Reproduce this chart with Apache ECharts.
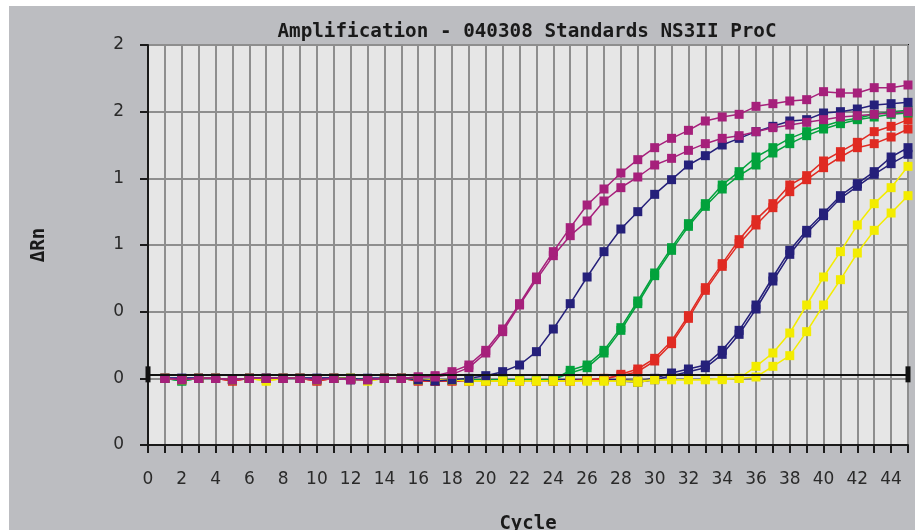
<!DOCTYPE html>
<html>
<head>
<meta charset="utf-8">
<script src="https://cdn.jsdelivr.net/npm/echarts@6/dist/echarts.min.js"></script>
<style>
  html, body { margin: 0; padding: 0; background: #ffffff; }
  #chart { position: absolute; left: 9px; top: 6px; width: 906px; height: 524px; }
</style>
</head>
<body>
<div id="chart"></div>
<script>
// cycles 1..45
const cycles = Array.from({ length: 45 }, (_, i) => i + 1)
const xTicks = [0, 2, 4, 6, 8, 10, 12, 14, 16, 18, 20, 22, 24, 26, 28, 30, 32, 34, 36, 38, 40, 42, 44]
const yTicks = [-0.5, 0, 0.5, 1, 1.5, 2, 2.5]
const threshold = 0.03

// ΔRn per cycle
const magentaA = [0.00, -0.01, 0.00, 0.00, -0.01, 0.00, 0.00, 0.00, 0.00, -0.01, 0.00, -0.01, -0.01, 0.00, 0.00,
  0.01, 0.02, 0.05, 0.10, 0.21, 0.37, 0.56, 0.76, 0.95, 1.13, 1.30, 1.42, 1.54, 1.64, 1.73,
  1.80, 1.86, 1.93, 1.96, 1.98, 2.04, 2.06, 2.08, 2.09, 2.15, 2.14, 2.14, 2.18, 2.18, 2.20]
const magentaB = [0.00, -0.01, 0.00, 0.00, -0.01, 0.00, 0.00, 0.00, 0.00, -0.01, 0.00, -0.01, -0.01, 0.00, 0.00,
  0.01, 0.01, 0.03, 0.08, 0.19, 0.35, 0.55, 0.74, 0.92, 1.07, 1.18, 1.33, 1.43, 1.51, 1.60,
  1.65, 1.71, 1.76, 1.80, 1.82, 1.85, 1.88, 1.90, 1.92, 1.94, 1.96, 1.97, 1.98, 1.99, 2.00]
const navyEarly = [0.00, 0.00, 0.00, 0.00, -0.01, 0.00, 0.00, 0.00, 0.00, 0.00, 0.00, 0.00, -0.01, 0.00, 0.00,
  -0.01, -0.02, -0.01, 0.00, 0.02, 0.05, 0.10, 0.20, 0.37, 0.56, 0.76, 0.95, 1.12, 1.25, 1.38,
  1.49, 1.60, 1.67, 1.75, 1.80, 1.85, 1.89, 1.93, 1.94, 1.99, 2.00, 2.02, 2.05, 2.06, 2.07]
const greenA = [0.00, -0.02, 0.00, 0.00, -0.01, 0.00, 0.00, 0.00, 0.00, -0.01, 0.00, 0.00, -0.01, 0.00, 0.00,
  -0.01, -0.01, -0.01, -0.01, -0.01, -0.01, -0.01, -0.01, -0.01, 0.06, 0.10, 0.21, 0.38, 0.58, 0.79,
  0.98, 1.16, 1.31, 1.45, 1.55, 1.66, 1.73, 1.80, 1.85, 1.89, 1.93, 1.95, 1.98, 2.00, 2.01]
const greenB = [0.00, -0.02, 0.00, 0.00, -0.01, 0.00, 0.00, 0.00, 0.00, -0.01, 0.00, 0.00, -0.01, 0.00, 0.00,
  -0.01, -0.01, -0.01, -0.01, -0.01, -0.01, -0.01, -0.01, -0.01, 0.04, 0.08, 0.19, 0.36, 0.56, 0.77,
  0.96, 1.14, 1.29, 1.42, 1.52, 1.60, 1.69, 1.76, 1.82, 1.87, 1.91, 1.94, 1.96, 1.98, 1.99]
const redA = [0.00, -0.01, 0.00, 0.00, -0.02, 0.00, 0.00, 0.00, 0.00, -0.02, 0.00, 0.00, -0.01, 0.00, 0.00,
  -0.02, -0.02, -0.02, -0.02, -0.02, -0.02, -0.02, -0.02, -0.02, -0.02, -0.01, -0.01, 0.03, 0.07, 0.15,
  0.28, 0.47, 0.68, 0.86, 1.04, 1.19, 1.31, 1.45, 1.52, 1.63, 1.70, 1.77, 1.85, 1.89, 1.94]
const redB = [0.00, -0.01, 0.00, 0.00, -0.02, 0.00, 0.00, 0.00, 0.00, -0.02, 0.00, 0.00, -0.01, 0.00, 0.00,
  -0.02, -0.02, -0.02, -0.02, -0.02, -0.02, -0.02, -0.02, -0.02, -0.02, -0.01, 0.00, 0.02, 0.05, 0.13,
  0.26, 0.45, 0.66, 0.84, 1.01, 1.15, 1.28, 1.40, 1.49, 1.58, 1.66, 1.73, 1.76, 1.81, 1.87]
const navyLateA = [0.00, 0.00, 0.00, 0.00, -0.01, 0.00, 0.00, 0.00, 0.00, 0.00, 0.00, -0.01, 0.00, 0.00, 0.00,
  -0.01, -0.02, -0.01, -0.01, -0.01, -0.01, -0.01, -0.01, -0.01, -0.01, -0.01, -0.01, -0.01, -0.02, 0.00,
  0.04, 0.07, 0.10, 0.21, 0.36, 0.55, 0.76, 0.96, 1.11, 1.24, 1.37, 1.46, 1.55, 1.66, 1.73]
const navyLateB = [0.00, 0.00, 0.00, 0.00, -0.01, 0.00, 0.00, 0.00, 0.00, 0.00, 0.00, -0.01, 0.00, 0.00, 0.00,
  -0.01, -0.02, -0.01, -0.01, -0.01, -0.01, -0.01, -0.01, -0.01, -0.01, -0.01, -0.01, -0.02, -0.03, -0.01,
  0.02, 0.05, 0.08, 0.18, 0.33, 0.52, 0.73, 0.93, 1.09, 1.22, 1.35, 1.44, 1.53, 1.61, 1.68]
const yellowA = [0.00, -0.01, 0.00, 0.00, -0.01, 0.00, -0.02, 0.00, 0.00, -0.01, 0.00, 0.00, -0.02, 0.00, 0.00,
  -0.01, -0.01, -0.01, -0.02, -0.02, -0.02, -0.02, -0.02, -0.02, -0.02, -0.02, -0.02, -0.02, -0.02, -0.01,
  -0.01, -0.01, -0.01, 0.00, 0.00, 0.09, 0.19, 0.34, 0.55, 0.76, 0.95, 1.15, 1.31, 1.43, 1.59]
const yellowB = [0.00, -0.01, 0.00, 0.00, -0.01, 0.00, -0.02, 0.00, 0.00, -0.01, 0.00, 0.00, -0.02, 0.00, 0.00,
  -0.01, -0.01, -0.01, -0.02, -0.02, -0.02, -0.02, -0.02, -0.02, -0.02, -0.02, -0.02, -0.02, -0.03, -0.01,
  -0.01, -0.01, -0.01, -0.01, 0.00, 0.01, 0.09, 0.17, 0.35, 0.55, 0.74, 0.94, 1.11, 1.24, 1.37]

const MAGENTA = '#a6207b'
const NAVY = '#25207a'
const GREEN = '#02a23c'
const RED = '#e02a22'
const YELLOW = '#f3ec00'

// bottom-most first
const curves = [
  { name: 'navyLateB', color: NAVY, values: navyLateB },
  { name: 'navyLateA', color: NAVY, values: navyLateA },
  { name: 'redB', color: RED, values: redB },
  { name: 'redA', color: RED, values: redA },
  { name: 'greenB', color: GREEN, values: greenB },
  { name: 'greenA', color: GREEN, values: greenA },
  { name: 'yellowB', color: YELLOW, values: yellowB },
  { name: 'yellowA', color: YELLOW, values: yellowA },
  { name: 'navyEarly', color: NAVY, values: navyEarly },
  { name: 'magentaB', color: MAGENTA, values: magentaB },
  { name: 'magentaA', color: MAGENTA, values: magentaA }
]

const labelFont = { fontFamily: 'DejaVu Sans', fontSize: 17, color: '#2a2a2a' }
const boldFont = { fontFamily: 'DejaVu Sans Mono', fontWeight: 'bold', color: '#1a1a1a' }

const series = curves.map(c => ({
  name: c.name,
  type: 'line',
  data: cycles.map((x, i) => [x, c.values[i]]),
  symbol: 'rect',
  symbolSize: 9,
  showSymbol: true,
  color: c.color,
  lineStyle: { width: 1.5, color: c.color },
  itemStyle: { color: c.color },
  silent: true
}))

// threshold line
series.push({
  type: 'line',
  data: [],
  z: 5,
  markLine: {
    silent: true,
    symbol: ['rect', 'rect'],
    symbolSize: [16, 5],
    label: { show: false },
    lineStyle: { color: '#111', width: 2, type: 'solid' },
    itemStyle: { color: '#111' },
    data: [{ yAxis: threshold }]
  }
})

const chart = echarts.init(document.getElementById('chart'))
chart.setOption({
  animation: false,
  backgroundColor: '#bcbdc1',
  title: {
    text: 'Amplification - 040308 Standards NS3II ProC',
    left: 513,
    top: 11,
    textAlign: 'center',
    textStyle: Object.assign({ fontSize: 19.3 }, boldFont)
  },
  grid: {
    left: 139,
    right: 7,
    top: 39,
    bottom: 85,
    outerBoundsMode: 'none',
    containLabel: false,
    show: true,
    backgroundColor: '#e6e6e6',
    borderColor: '#1a1a1a',
    borderWidth: 2
  },
  xAxis: {
    type: 'value',
    min: 0,
    max: 45,
    interval: 1,
    name: 'Cycle',
    nameLocation: 'middle',
    nameGap: 70,
    nameTextStyle: Object.assign({ fontSize: 19 }, boldFont),
    axisLine: { onZero: false, lineStyle: { color: '#1a1a1a', width: 2 } },
    axisTick: { length: 8, lineStyle: { color: '#1a1a1a', width: 2 } },
    axisLabel: Object.assign({
      margin: 26,
      formatter: v => (xTicks.includes(v) ? String(v) : '')
    }, labelFont),
    splitLine: { lineStyle: { color: '#8e8e8e', width: 2 } }
  },
  yAxis: {
    type: 'value',
    min: yTicks[0],
    max: yTicks[yTicks.length - 1],
    interval: 0.5,
    name: 'ΔRn',
    nameLocation: 'middle',
    nameRotate: 90,
    nameGap: 99,
    nameTextStyle: Object.assign({ fontSize: 19 }, boldFont),
    axisLine: { show: true, onZero: false, lineStyle: { color: '#1a1a1a', width: 2 } },
    axisTick: { show: true, length: 8, lineStyle: { color: '#1a1a1a', width: 2 } },
    axisLabel: Object.assign({
      margin: 24,
      formatter: v => String(Math.trunc(v))
    }, labelFont),
    splitLine: { lineStyle: { color: '#8e8e8e', width: 2 } }
  },
  series: series
})
</script>
</body>
</html>
